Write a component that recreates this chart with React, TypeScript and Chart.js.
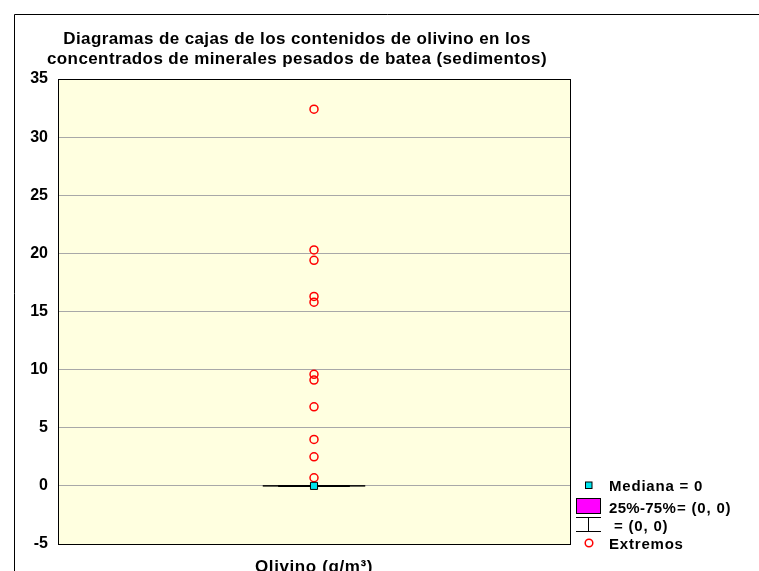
import React, { useEffect, useRef } from "react";
import { Chart, registerables } from "chart.js";

Chart.register(...registerables);

const TITLE_LINES = [
  "Diagramas de cajas de los contenidos de olivino en los",
  "concentrados de minerales pesados de batea (sedimentos)",
];
const CATEGORY = "Olivino (g/m³)";
const MEDIAN = [0];
const Q25_75 = [0, 0];
const WHISKER = [0, 0];
const EXTREMES = [32.4, 20.3, 19.4, 16.3, 15.8, 9.6, 9.1, 6.8, 4.0, 2.5, 0.7];
const Y_MIN = -5;
const Y_MAX = 35;
const Y_STEP = 5;

const FONT = '"Liberation Sans", Arial, sans-serif';

function setSpacing(ctx: any, v: string) {
  try {
    ctx.letterSpacing = v;
  } catch (e) {
    /* ignore */
  }
}

const decorPlugin = {
  id: "decor",
  beforeDraw(chart: any) {
    const { ctx, chartArea } = chart;
    ctx.save();
    ctx.fillStyle = "#ffffff";
    ctx.fillRect(0, 0, chart.width, chart.height);
    ctx.fillStyle = "#FFFFE0";
    ctx.fillRect(chartArea.left, chartArea.top, chartArea.right - chartArea.left, chartArea.bottom - chartArea.top);
    ctx.restore();
  },
  beforeDatasetsDraw(chart: any) {
    const { ctx, chartArea, scales } = chart;
    const xs = scales.x;
    const ys = scales.y;
    ctx.save();
    // plot border
    ctx.strokeStyle = "#000";
    ctx.lineWidth = 1;
    ctx.strokeRect(
      Math.round(chartArea.left) + 0.5,
      Math.round(chartArea.top) + 0.5,
      Math.round(chartArea.right - chartArea.left),
      Math.round(chartArea.bottom - chartArea.top)
    );
    // box & whiskers
    const cx = xs.getPixelForValue(0.5);
    const boxHalf = xs.getPixelForValue(0.5 + 0.07) - cx;
    const capHalf = xs.getPixelForValue(0.5 + 0.1) - cx;
    const yq1 = ys.getPixelForValue(Q25_75[0]);
    const yq3 = ys.getPixelForValue(Q25_75[1]);
    const yw1 = ys.getPixelForValue(WHISKER[0]);
    const yw2 = ys.getPixelForValue(WHISKER[1]);
    ctx.strokeStyle = "#000";
    ctx.lineWidth = 1;
    ctx.beginPath();
    ctx.moveTo(cx, yq1);
    ctx.lineTo(cx, yw1);
    ctx.moveTo(cx, yq3);
    ctx.lineTo(cx, yw2);
    ctx.moveTo(cx - capHalf, yw1);
    ctx.lineTo(cx + capHalf, yw1);
    ctx.moveTo(cx - capHalf, yw2);
    ctx.lineTo(cx + capHalf, yw2);
    ctx.stroke();
    ctx.fillStyle = "#FF00FF";
    ctx.fillRect(cx - boxHalf, Math.min(yq1, yq3), boxHalf * 2, Math.abs(yq1 - yq3));
    ctx.lineWidth = 2;
    ctx.strokeRect(cx - boxHalf, Math.min(yq1, yq3), boxHalf * 2, Math.abs(yq1 - yq3));
    ctx.restore();
  },
  afterDraw(chart: any) {
    const { ctx, chartArea } = chart;
    ctx.save();
    // outer frame
    ctx.strokeStyle = "#000";
    ctx.lineWidth = 1;
    ctx.beginPath();
    ctx.moveTo(14.5, chart.height + 2);
    ctx.lineTo(14.5, 14.5);
    ctx.lineTo(chart.width + 2, 14.5);
    ctx.stroke();
    // title
    ctx.fillStyle = "#000";
    ctx.font = `bold 17px ${FONT}`;
    setSpacing(ctx, "0.4px");
    ctx.textAlign = "center";
    ctx.textBaseline = "alphabetic";
    ctx.fillText(TITLE_LINES[0], 297, 44);
    ctx.fillText(TITLE_LINES[1], 297, 64);
    // x label
    ctx.font = `bold 17px ${FONT}`;
    setSpacing(ctx, "0.6px");
    const cx = (chartArea.left + chartArea.right) / 2;
    ctx.fillText(CATEGORY, cx, 572);
    // legend
    ctx.textAlign = "left";
    ctx.font = `bold 15px ${FONT}`;
    setSpacing(ctx, "0.8px");
    // median marker
    ctx.fillStyle = "#00E5EE";
    ctx.fillRect(585.5, 482, 6.5, 6.5);
    ctx.strokeStyle = "#000";
    ctx.lineWidth = 1;
    ctx.strokeRect(585.5, 482, 6.5, 6.5);
    ctx.fillStyle = "#000";
    ctx.fillText(`Mediana = ${MEDIAN[0]}`, 609, 491);
    // box
    ctx.fillStyle = "#FF00FF";
    ctx.fillRect(577, 498, 24, 15);
    ctx.strokeRect(576.5, 498.5, 24, 15);
    ctx.fillStyle = "#000";
    setSpacing(ctx, "0.3px");
    ctx.fillText("25%-75%", 609, 512.5);
    setSpacing(ctx, "0.8px");
    ctx.fillText(`= (${Q25_75[0]}, ${Q25_75[1]})`, 677, 512.5);
    // whisker symbol
    ctx.beginPath();
    ctx.moveTo(576, 517.5);
    ctx.lineTo(601, 517.5);
    ctx.moveTo(588.5, 517.5);
    ctx.lineTo(588.5, 531.5);
    ctx.moveTo(576, 531.5);
    ctx.lineTo(601, 531.5);
    ctx.stroke();
    ctx.fillText(`= (${WHISKER[0]}, ${WHISKER[1]})`, 614, 531);
    // extremes
    ctx.strokeStyle = "#FF0000";
    ctx.lineWidth = 1.5;
    ctx.beginPath();
    ctx.arc(589, 543, 3.8, 0, Math.PI * 2);
    ctx.stroke();
    ctx.fillText("Extremos", 609, 549);
    ctx.restore();
  },
};

export default function App() {
  const ref = useRef<HTMLCanvasElement | null>(null);
  useEffect(() => {
    if (!ref.current) return;
    const chart = new Chart(ref.current, {
      type: "scatter",
      data: {
        datasets: [
          {
            label: "Mediana",
            data: MEDIAN.map((v) => ({ x: 0.5, y: v })),
            pointStyle: "rect",
            pointRadius: 5,
            backgroundColor: "#00E5EE",
            borderColor: "#000",
            borderWidth: 1,
          },
          {
            label: "Extremos",
            data: EXTREMES.map((v) => ({ x: 0.5, y: v })),
            pointStyle: "circle",
            pointRadius: 4,
            backgroundColor: "rgba(0,0,0,0)",
            borderColor: "#FF0000",
            borderWidth: 1.5,
          },
        ],
      },
      options: {
        animation: false,
        responsive: false,
        devicePixelRatio: 1,
        layout: { padding: { left: 14, right: 189, top: 79, bottom: 27 } },
        plugins: { legend: { display: false }, title: { display: false }, tooltip: { enabled: false } },
        scales: {
          x: { type: "linear", min: 0, max: 1, display: false },
          y: {
            type: "linear",
            min: Y_MIN,
            max: Y_MAX,
            afterFit: (s: any) => {
              s.width = 44;
            },
            ticks: {
              stepSize: Y_STEP,
              padding: 10,
              color: "#000",
              font: { family: FONT, size: 16, weight: "bold" },
            },
            grid: { color: "#A8A8A8", lineWidth: 1, drawTicks: false },
            border: { display: false },
          },
        },
      },
      plugins: [decorPlugin],
    });
    return () => chart.destroy();
  }, []);
  return (
    <div style={{ position: "absolute", left: 0, top: 0, width: 759, height: 571 }}>
      <canvas ref={ref} width={759} height={571} style={{ width: 759, height: 571 }} />
    </div>
  );
}
